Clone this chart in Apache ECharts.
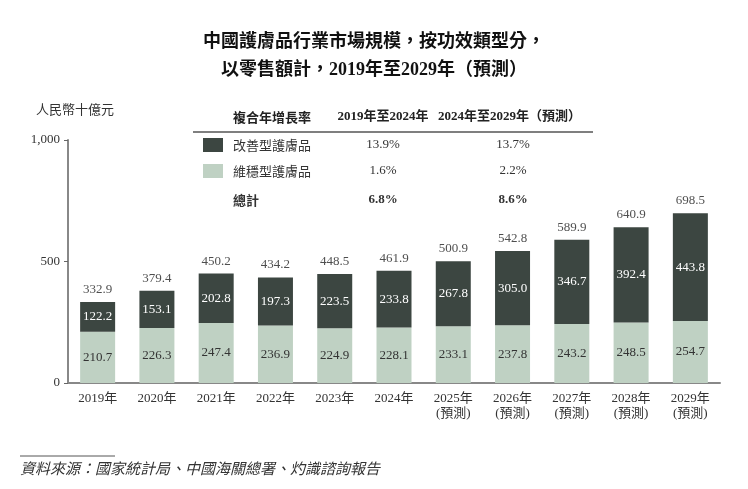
<!DOCTYPE html>
<html><head><meta charset="utf-8">
<script src="https://cdn.jsdelivr.net/npm/echarts@6/dist/echarts.min.js"></script>
<style>html,body{margin:0;padding:0;background:#fff}#c{width:748px;height:489px}</style>
</head><body><div id="c"></div>
<script>
const categories = ['2019年','2020年','2021年','2022年','2023年','2024年','2025年\n(預測)','2026年\n(預測)','2027年\n(預測)','2028年\n(預測)','2029年\n(預測)'];
const maintenance = [210.7,226.3,247.4,236.9,224.9,228.1,233.1,237.8,243.2,248.5,254.7];
const improvement = [122.2,153.1,202.8,197.3,223.5,233.8,267.8,305.0,346.7,392.4,443.8];
const totals = [332.9,379.4,450.2,434.2,448.5,461.9,500.9,542.8,589.9,640.9,698.5];
const yTicks = [0,500,1000];
const cagrHeaders = ['複合年增長率','2019年至2024年','2024年至2029年（預測）'];
const cagrRows = ['改善型護膚品','維穩型護膚品','總計'];
const cagr1924 = ['13.9%','1.6%','6.8%'];
const cagr2429 = ['13.7%','2.2%','8.6%'];

const DARK = '#3c4641', LIGHT = '#bfd1c3';
const FONT = "'Liberation Serif','Noto Sans CJK TC',serif";
const CJK = "'Noto Sans CJK TC','Liberation Serif',sans-serif";

const chart = echarts.init(document.getElementById('c'));
const rowY = [145,171,200];
const swatch = [DARK, LIGHT, null];
const g = [];
g.push({type:'text', left:'center', top:33, style:{text:'中國護膚品行業市場規模，按功效類型分，', font:"bold 18px "+FONT, fill:'#111'}});
g.push({type:'text', left:'center', top:61, style:{text:'以零售額計，2019年至2029年（預測）', font:"bold 18px "+FONT, fill:'#111'}});
g.push({type:'text', left:36, top:103, style:{text:'人民幣十億元', font:"13px "+CJK, fill:'#333'}});
g.push({type:'text', x:233, y:117, style:{text:cagrHeaders[0], font:"bold 13px "+CJK, fill:'#222', verticalAlign:'middle'}});
g.push({type:'text', x:383, y:117, style:{text:cagrHeaders[1], font:"bold 13px "+FONT, fill:'#222', align:'center', verticalAlign:'middle'}});
g.push({type:'text', x:438, y:117, style:{text:cagrHeaders[2], font:"bold 13px "+FONT, fill:'#222', verticalAlign:'middle'}});
g.push({type:'line', shape:{x1:193,y1:132,x2:593,y2:132}, style:{stroke:'#555', lineWidth:1.5}});
cagrRows.forEach((r,i)=>{
  const bold = i===2;
  if (swatch[i]) g.push({type:'rect', shape:{x:203,y:rowY[i]-7,width:20,height:14}, style:{fill:swatch[i]}});
  g.push({type:'text', x:233, y:rowY[i], style:{text:r, font:(bold?'bold ':'')+"13px "+CJK, fill:'#333', verticalAlign:'middle'}});
  g.push({type:'text', x:383, y:rowY[i], style:{text:cagr1924[i], font:(bold?'bold ':'')+"13px "+FONT, fill:'#333', align:'center', verticalAlign:'middle'}});
  g.push({type:'text', x:513, y:rowY[i], style:{text:cagr2429[i], font:(bold?'bold ':'')+"13px "+FONT, fill:'#333', align:'center', verticalAlign:'middle'}});
});
g.push({type:'line', shape:{x1:20,y1:456,x2:115,y2:456}, style:{stroke:'#555', lineWidth:1}});
g.push({type:'text', x:20, y:468, style:{text:'資料來源：國家統計局、中國海關總署、灼識諮詢報告', font:"italic 15px "+CJK, fill:'#333', verticalAlign:'middle'}});

chart.setOption({
  animation:false,
  grid:{left:68, top:140, width:652, bottom:106},
  xAxis:{type:'category', data:categories,
    axisLine:{lineStyle:{color:'#888', width:2}}, axisTick:{show:false},
    axisLabel:{color:'#333', fontFamily:FONT, fontSize:13, lineHeight:15, margin:8, interval:0}},
  yAxis:{type:'value', min:0, max:1000, interval:500,
    axisLine:{show:true, lineStyle:{color:'#888', width:2}},
    axisTick:{show:true, length:4, lineStyle:{color:'#666'}},
    splitLine:{show:false},
    axisLabel:{color:'#333', fontFamily:FONT, fontSize:13, margin:8,
      formatter:v=> yTicks.includes(v) ? v.toLocaleString('en-US') : ''}},
  series:[
    {type:'bar', stack:'s', data:maintenance, barWidth:35, itemStyle:{color:LIGHT},
      label:{show:true, position:'inside', color:'#333', fontFamily:FONT, fontSize:13, formatter:p=>p.value.toFixed(1)}},
    {type:'bar', stack:'s', data:improvement, barWidth:35, itemStyle:{color:DARK},
      label:{show:true, position:'inside', color:'#fff', fontFamily:FONT, fontSize:13, formatter:p=>p.value.toFixed(1)}},
    {type:'scatter', data:totals, symbolSize:0, silent:true,
      label:{show:true, position:'top', distance:6, color:'#222', fontFamily:FONT, fontSize:13, formatter:p=>p.value.toFixed(1)}}
  ],
  graphic:g
});
</script></body></html>
